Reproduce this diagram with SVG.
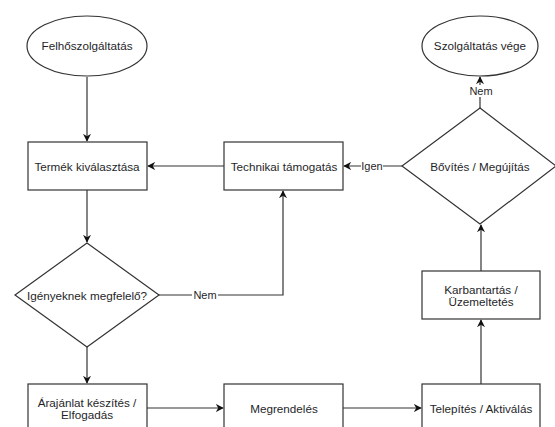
<svg xmlns="http://www.w3.org/2000/svg" width="555" height="427" viewBox="0 0 555 427">
  <style>
    .shape { fill: #ffffff; stroke: #333333; stroke-width: 1.2; }
    .edge { fill: none; stroke: #333333; stroke-width: 1.2; }
    .label { font-family: "Liberation Sans", Arial, sans-serif; font-size: 11.7px; fill: #1f1f2a; text-anchor: middle; dominant-baseline: central; }
    .elabel { font-family: "Liberation Sans", Arial, sans-serif; font-size: 11px; fill: #1f1f2a; text-anchor: middle; dominant-baseline: central; }
    .bg { fill: #ffffff; }
  </style>
  <defs>
    <marker id="arrow" viewBox="0 0 10 10" refX="9" refY="5" markerWidth="8" markerHeight="8" markerUnits="userSpaceOnUse" orient="auto">
      <path d="M0,0 L10,5 L0,10 L3,5 Z" fill="#111111"/>
    </marker>
  </defs>
  <rect width="555" height="427" fill="#ffffff"/>

  <!-- connectors -->
  <g id="connectors">
    <path class="edge" d="M87,77 L87,141" marker-end="url(#arrow)"/>
    <path class="edge" d="M224,166 L148,166" marker-end="url(#arrow)"/>
    <path class="edge" d="M87,190 L87,242" marker-end="url(#arrow)"/>
    <path class="edge" d="M159,295 L283,295 L283,191" marker-end="url(#arrow)"/>
    <path class="edge" d="M87,347 L87,383" marker-end="url(#arrow)"/>
    <path class="edge" d="M146,408 L223,408" marker-end="url(#arrow)"/>
    <path class="edge" d="M343,408 L421,408" marker-end="url(#arrow)"/>
    <path class="edge" d="M481,384 L481,320" marker-end="url(#arrow)"/>
    <path class="edge" d="M481,271 L481,225" marker-end="url(#arrow)"/>
    <path class="edge" d="M402,166 L344,166" marker-end="url(#arrow)"/>
    <path class="edge" d="M480,108 L480,77" marker-end="url(#arrow)"/>
    <!-- edge labels -->
    <rect class="bg" x="192" y="289" width="26" height="12"/>
    <text class="elabel" x="205" y="295">Nem</text>
    <rect class="bg" x="361" y="160" width="22" height="12"/>
    <text class="elabel" x="372" y="166">Igen</text>
    <rect class="bg" x="468" y="85" width="26" height="12"/>
    <text class="elabel" x="481" y="91">Nem</text>
  </g>

  <g id="felhoszolgaltatas">
    <ellipse class="shape" cx="87" cy="46" rx="60" ry="30"/>
    <text class="label" x="87" y="45">Felhőszolgáltatás</text>
  </g>

  <g id="termek-kivalasztasa">
    <rect class="shape" x="28" y="142" width="119" height="48"/>
    <text class="label" x="87" y="166">Termék kiválasztása</text>
  </g>

  <g id="technikai-tamogatas">
    <rect class="shape" x="224" y="142" width="119" height="48"/>
    <text class="label" x="284" y="166">Technikai támogatás</text>
  </g>

  <g id="igenyeknek-megfelelo">
    <polygon class="shape" points="87,243 159,295 87,347 15,295"/>
    <text class="label" x="87" y="295">Igényeknek megfelelő?</text>
  </g>

  <g id="arajanlat">
    <rect class="shape" x="28" y="384" width="119" height="50"/>
    <text class="label" x="87" y="402">Árajánlat készítés /</text>
    <text class="label" x="87" y="414">Elfogadás</text>
  </g>

  <g id="megrendeles">
    <rect class="shape" x="224" y="384" width="119" height="50"/>
    <text class="label" x="284" y="408">Megrendelés</text>
  </g>

  <g id="telepites">
    <rect class="shape" x="422" y="384" width="118" height="50"/>
    <text class="label" x="481" y="408">Telepítés / Aktiválás</text>
  </g>

  <g id="karbantartas">
    <rect class="shape" x="422" y="271" width="118" height="48"/>
    <text class="label" x="481" y="289">Karbantartás /</text>
    <text class="label" x="481" y="301">Üzemeltetés</text>
  </g>

  <g id="bovites-megujitas">
    <polygon class="shape" points="480,108 556,166 480,224 402,166"/>
    <text class="label" x="480" y="166">Bővítés / Megújítás</text>
  </g>

  <g id="szolgaltatas-vege">
    <ellipse class="shape" cx="480" cy="46" rx="58" ry="30"/>
    <text class="label" x="480" y="45">Szolgáltatás vége</text>
  </g>
</svg>
